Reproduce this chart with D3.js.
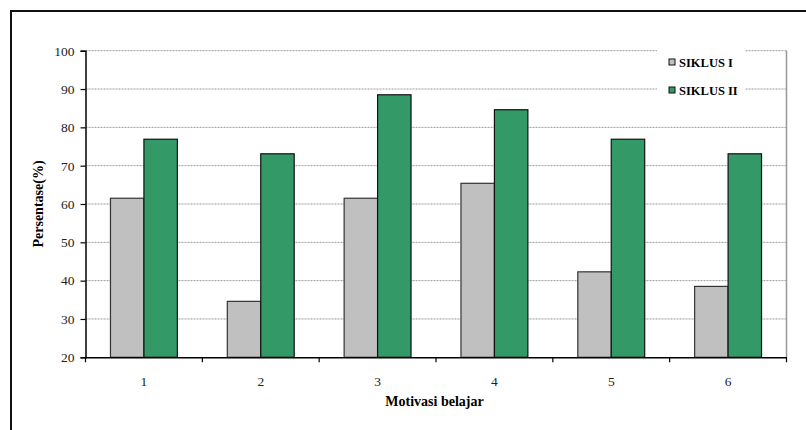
<!DOCTYPE html>
<html><head><meta charset="utf-8">
<script src="https://cdn.jsdelivr.net/npm/d3@7"></script>
<style>body{margin:0;background:#fff}svg{display:block}</style>
</head><body><svg id="c" width="806" height="430"></svg>
<script>
const categories = ["1","2","3","4","5","6"];
const seriesNames = ["SIKLUS I","SIKLUS II"];
const siklus1 = [61.5, 34.6, 61.5, 65.4, 42.3, 38.5];
const siklus2 = [76.9, 73.1, 88.5, 84.6, 76.9, 73.1];
const yTicks = [20,30,40,50,60,70,80,90,100];
const colors = ["#c0c0c0","#339966"];
const FONT = "'Liberation Serif','Times New Roman',serif";

const svg = d3.select("#c");
const m = {l:85.5, r:786.5, t:50.7, b:357.3};
const x = d3.scaleBand().domain(categories).range([m.l, m.r]).paddingInner(0).paddingOuter(0);
const y = d3.scaleLinear().domain([20,100]).range([m.b, m.t]);
const bw = x.bandwidth();
const inner = d3.scaleBand().domain(seriesNames).range([0, bw]).paddingOuter(0.7466).paddingInner(0);

// outer border
svg.append("rect").attr("x",11).attr("y",11).attr("width",900).attr("height",500)
  .attr("fill","none").attr("stroke","#111").attr("stroke-width",2);

// gridlines
svg.append("g").selectAll("line").data(yTicks.filter(d=>d>20)).join("line")
  .attr("x1",m.l).attr("x2",m.r).attr("y1",d=>y(d)).attr("y2",d=>y(d))
  .attr("stroke","#999").attr("stroke-width",1).attr("stroke-dasharray","2,1");
// right border of plot
svg.append("line").attr("x1",m.r).attr("x2",m.r).attr("y1",m.t).attr("y2",m.b)
  .attr("stroke","#999").attr("stroke-width",1.5);

// bars
const data = categories.map((c,i)=>({c, vals:[siklus1[i], siklus2[i]]}));
const g = svg.append("g");
data.forEach(d=>{
  d.vals.forEach((v,k)=>{
    g.append("rect")
      .attr("x", x(d.c)+inner(seriesNames[k]))
      .attr("y", y(v))
      .attr("width", inner.bandwidth())
      .attr("height", y(20)-y(v))
      .attr("fill", colors[k])
      .attr("stroke", k===0?"#333":"#111").attr("stroke-width",1.2);
  });
});

// y axis
const ya = svg.append("g").attr("transform",`translate(${m.l},0)`)
  .call(d3.axisLeft(y).tickValues(yTicks).tickSize(5).tickPadding(6));
ya.select(".domain").attr("stroke","#000").attr("stroke-width",1.5);
ya.selectAll(".tick line").attr("stroke","#000").attr("stroke-width",1.2);
ya.selectAll(".tick text").style("font-family",FONT).style("font-size","13.5px").attr("fill","#222");

// x axis
const xa = svg.append("g").attr("transform",`translate(0,${m.b})`)
  .call(d3.axisBottom(x).tickSize(0).tickPadding(19));
xa.select(".domain").attr("stroke","#000").attr("stroke-width",1.5);
xa.selectAll(".tick text").style("font-family",FONT).style("font-size","13.5px").attr("fill","#222");
const bounds = categories.map(c=>x(c)).concat([m.r]);
svg.append("g").selectAll("line").data(bounds).join("line")
  .attr("x1",d=>d).attr("x2",d=>d).attr("y1",m.b).attr("y2",m.b+5)
  .attr("stroke","#000").attr("stroke-width",1.2);

// axis titles
svg.append("text").attr("x",434.5).attr("y",406).attr("text-anchor","middle")
  .style("font-family",FONT).style("font-weight","bold").style("font-size","14px").text("Motivasi belajar");
svg.append("text").attr("transform",`translate(43,${(m.t+m.b)/2}) rotate(-90)`)
  .attr("text-anchor","middle").style("font-family",FONT).style("font-weight","bold").style("font-size","14px").text("Persentase(%)");

// legend
svg.append("rect").attr("x",657).attr("y",44).attr("width",88).attr("height",58).attr("fill","#fff");
const lg = svg.append("g");
seriesNames.forEach((s,i)=>{
  const yy = 62 + i*28;
  lg.append("rect").attr("x",669).attr("y",yy-3).attr("width",6).attr("height",6)
    .attr("fill",colors[i]).attr("stroke","#111").attr("stroke-width",1);
  lg.append("text").attr("x",679).attr("y",yy+4.5).style("font-family",FONT)
    .style("font-weight","bold").style("font-size","12.5px").text(s);
});
</script></body></html>
